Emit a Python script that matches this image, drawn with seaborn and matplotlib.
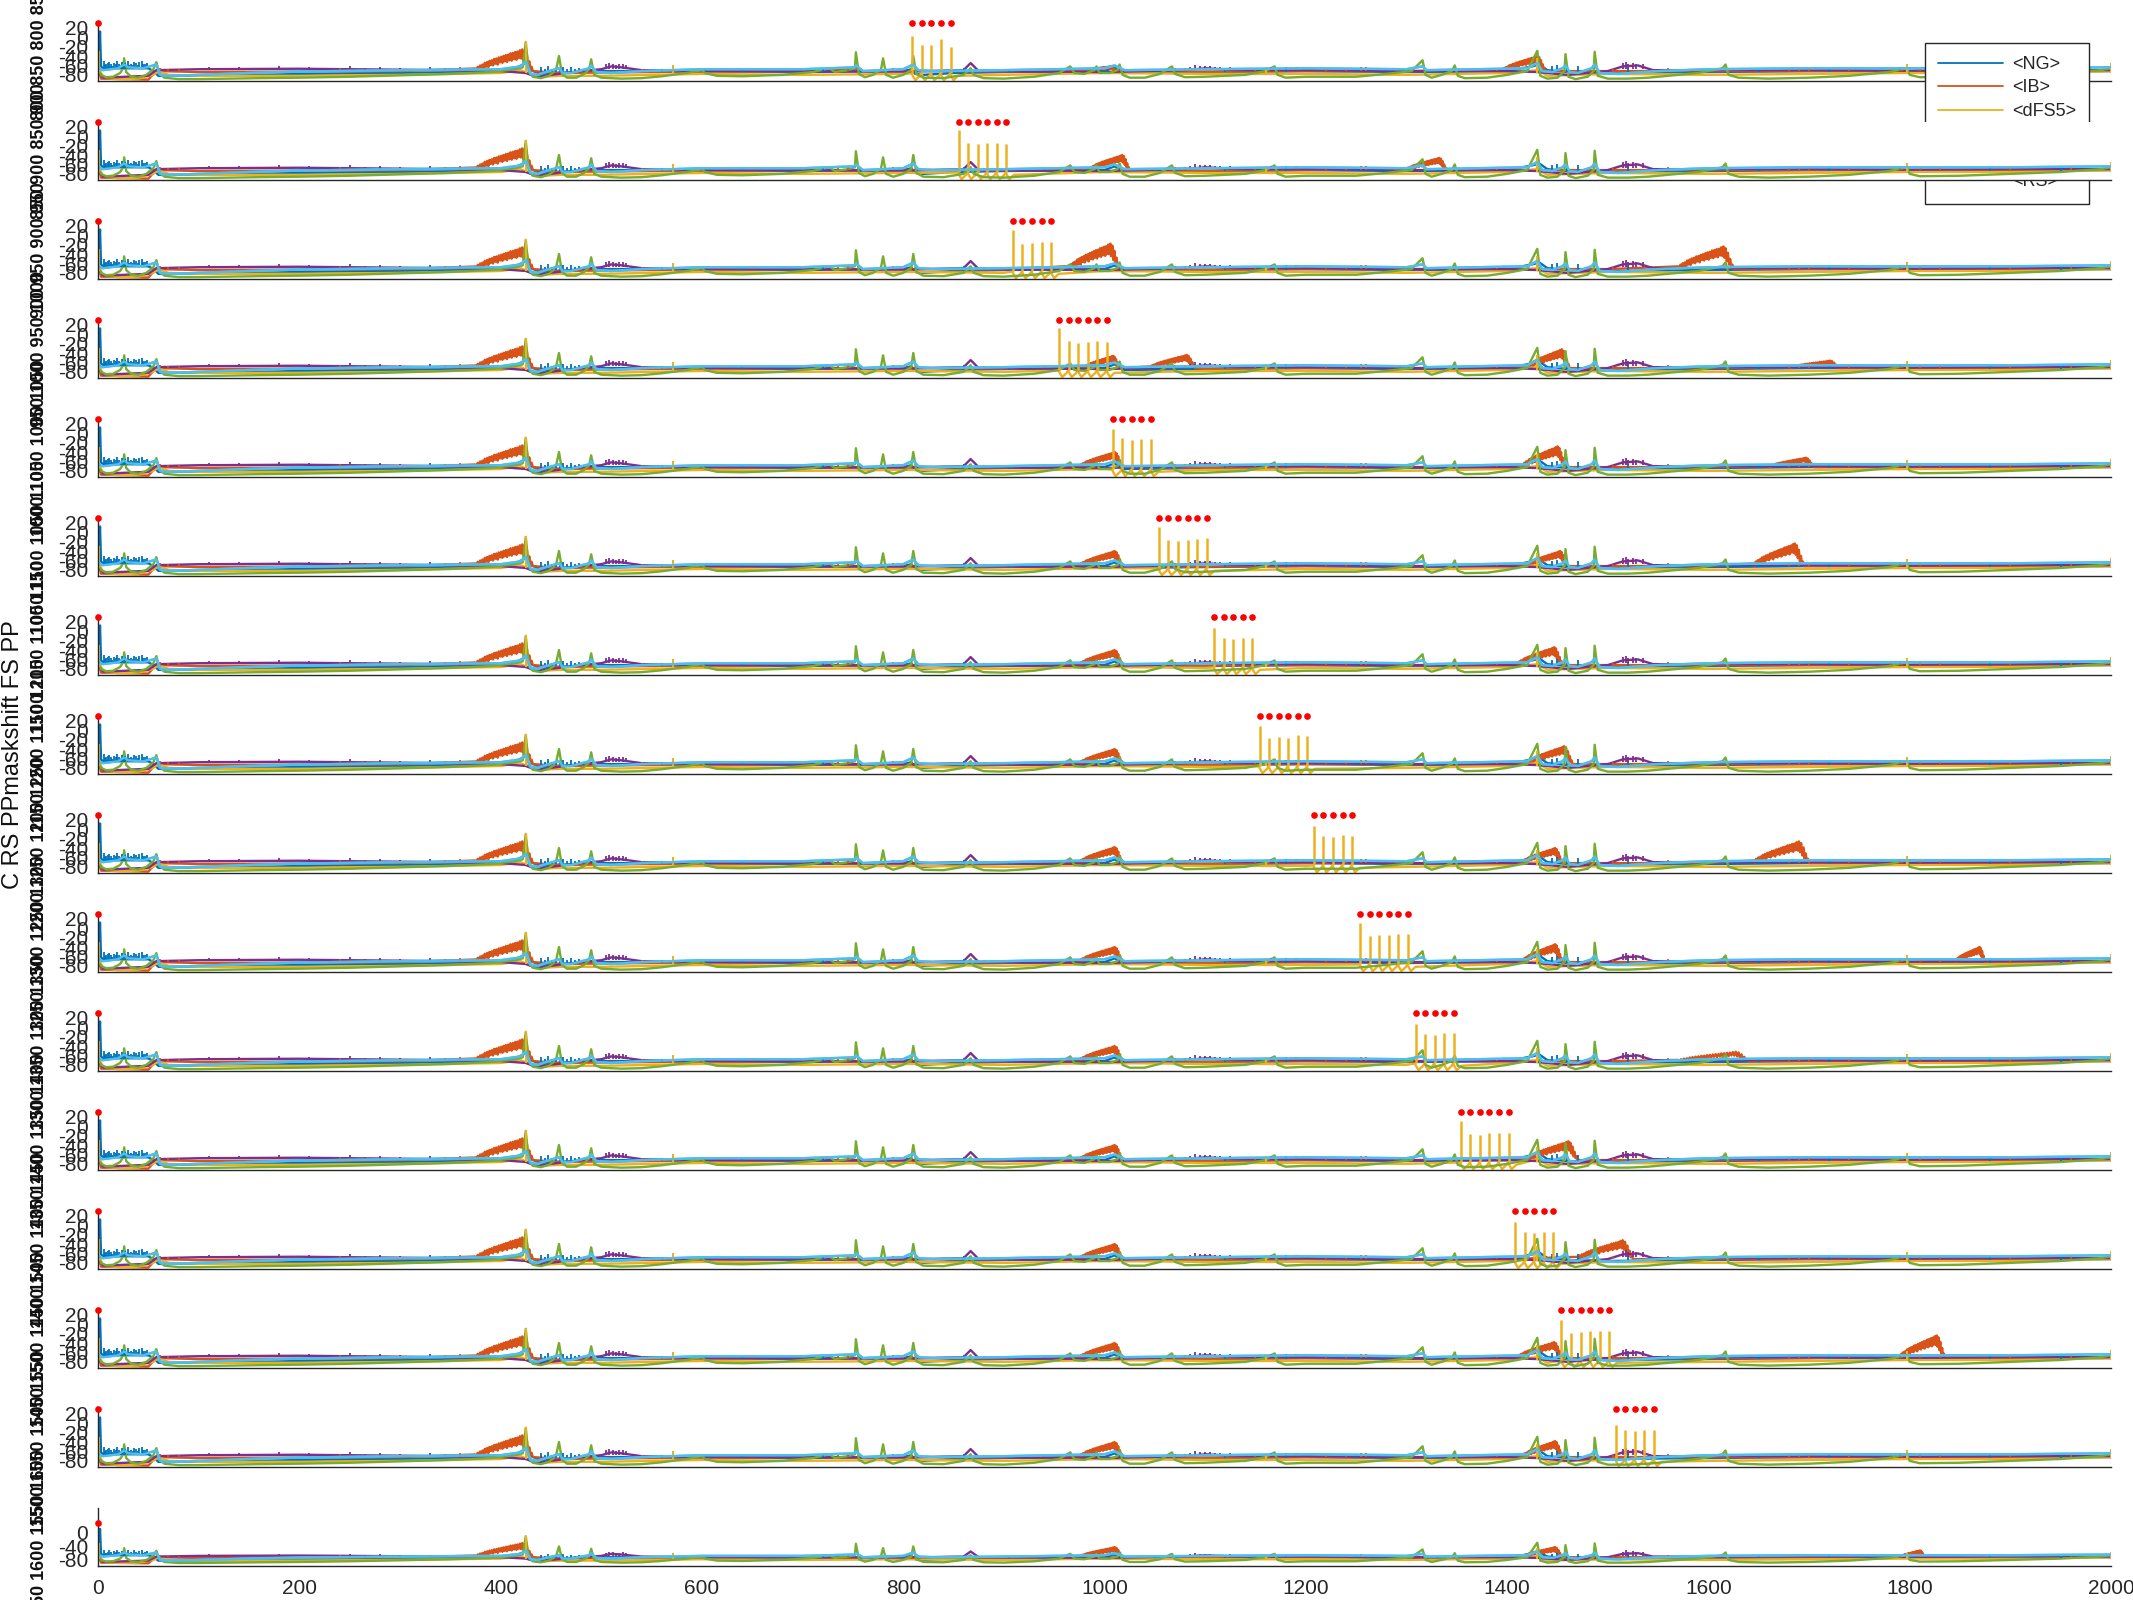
import numpy as np
import pandas as pd
import matplotlib
matplotlib.use("Agg")
import matplotlib.pyplot as plt
from matplotlib.lines import Line2D
import seaborn as sns

sns.set_theme(style="white")
plt.rcParams['font.family'] = ['Liberation Sans', 'DejaVu Sans']
plt.rcParams['axes.unicode_minus'] = False

# ---------------- data ----------------
SERIES = ["<NG>", "<IB>", "<dFS5>", "<FS>", "<LTS>", "<RS>"]
COLORS = ["#0072BD", "#D95319", "#EDB120", "#7E2F8E", "#77AC30", "#4DBEEE"]

X_TICKS = [0, 200, 400, 600, 800, 1000, 1200, 1400, 1600, 1800, 2000]
Y_TICKS = [20, 0, -20, -40, -60, -80]
Y_TICKS_LAST = [0, -40, -80]

# NG (blue)
NG_x = [0, 1, 2, 3, 5, 50, 55, 60, 100, 150, 200, 300, 400, 415, 425, 430, 440, 480, 500, 600,
        700, 800, 808, 812, 820, 850, 900, 1000, 1010, 1020, 1100, 1200, 1300, 1400, 1425, 1432,
        1440, 1460, 1500, 1600, 1700, 1800, 1900, 2000]
NG_y = [-75, -40, 12, -62, -66, -66, -72, -82, -82, -80, -78, -76, -74, -66, -55, -70, -78, -73, -72, -72,
        -74, -72, -68, -78, -80, -76, -74, -72, -64, -76, -74, -72, -74, -72, -62, -58,
        -70, -74, -76, -74, -72, -72, -74, -72]
NG_spk_x = [6, 7, 8, 10, 11, 13, 14, 16, 18, 19, 21, 22, 24, 26, 27, 30, 31, 33, 35, 36, 38,
            40, 41, 44, 45, 47, 49,
            440, 444, 447, 451, 455, 459, 462, 466, 470, 474, 478, 560, 640, 720, 860, 905,
            1050, 1120, 1180, 1250, 1330, 1445, 1450, 1460, 1470, 1520, 1560, 1650, 1720,
            1880, 1950]
NG_spk_top = [-50, -60, -58, -55, -52, -56, -62, -54, -57, -50, -57, -61, -53, -58, -55, -51,
              -60, -56, -59, -52, -55, -60, -53, -50, -58, -56, -54,
              -64, -68, -62, -67, -65, -68, -63, -67, -64, -68, -66, -68, -68, -68, -66, -68,
              -68, -66, -68, -68, -68, -62, -60, -64, -62, -66, -68, -66, -68,
              -66, -66]
NG_spk_bot = [-67] * 27 + [-74] * 31

# IB (orange)
IB_x = [0, 3, 50, 55, 60, 100, 200, 300, 380, 432, 460, 500, 600, 700, 800, 900, 1000, 1100,
        1200, 1300, 1400, 1500, 1600, 1700, 1800, 1900, 2000]
IB_y = [-60, -88, -90, -78, -72, -74, -73, -72, -70, -80, -76, -75, -73, -72, -72, -73, -72, -73,
        -72, -72, -72, -72, -72, -72, -72, -72, -70]
IB_spk_x = [62, 70, 80, 240, 250, 265, 280, 300, 315, 330, 345, 360, 540, 580, 620, 650, 700,
            735, 745, 790, 800, 880, 940, 1060, 1070, 1080, 1150, 1220, 1240, 1255, 1260,
            1290, 1390, 1505, 1560, 1620, 1680, 1690, 1700, 1740, 1780, 1790, 1810, 1830,
            1900, 1960]
IB_spk_top = [-66, -68, -67, -66, -68, -67, -66, -65, -67, -68, -66, -64, -67, -67, -67, -66,
              -68, -64, -63, -66, -65, -67, -67, -67, -66, -65, -67, -66, -67, -63, -64, -66,
              -66, -67, -66, -67, -66, -68, -67, -66, -66, -65, -65, -67, -67, -66]
# jagged burst envelope (fraction of the burst peak above baseline): upper and lower strokes
BURST_TOP = [0.12, 0.2, 0.26, 0.3, 0.38, 0.42, 0.47, 0.5, 0.56, 0.58, 0.63, 0.66, 0.7, 0.74,
             0.76, 0.82, 0.84, 0.88, 0.9, 0.96, 1.0, 0.92, 0.72, 0.45, 0.2]
BURST_LOW = [0.0, 0.05, 0.12, 0.1, 0.2, 0.18, 0.28, 0.26, 0.34, 0.3, 0.4, 0.38, 0.45, 0.42,
             0.5, 0.48, 0.55, 0.52, 0.6, 0.58, 0.5, 0.35, 0.2, 0.1, 0.0]
BURST_BASE = -72

# dFS5 (yellow)
YE_x = [0, 2, 5, 20, 40, 55, 60, 70, 100, 200, 300, 400, 420, 428, 440, 460, 500, 600, 700,
        800, 900, 1000, 1100, 1200, 1300, 1400, 1430, 1440, 1500, 1600, 1700, 1800, 1900, 2000]
YE_y = [-60, -70, -86, -89, -88, -80, -72, -80, -82, -82, -80, -76, -70, -78, -84, -82, -82,
        -78, -80, -78, -80, -76, -78, -78, -80, -76, -70, -82, -78, -80, -78, -76, -76, -72]
YE_spk_x = [1, 425, 571, 1160, 1430, 1797, 2000]
YE_spk_top = [-30, -8, -60, -64, -45, -58, -55]
PULSE_DX = [-0.6, 1.0, 3.0, 5.5, 7.5]
PULSE_DY = [-77, -84, -91, -86, -82]

# FS (purple)
PU_x = [0, 5, 50, 58, 100, 200, 300, 400, 425, 435, 480, 500, 510, 520, 540, 600, 700, 800,
        860, 867, 875, 1000, 1080, 1100, 1130, 1200, 1300, 1400, 1430, 1460, 1500, 1515, 1530,
        1545, 1700, 1800, 1900, 2000]
PU_y = [-72, -86, -82, -70, -68, -67, -69, -72, -76, -84, -72, -68, -62, -64, -70, -72, -72, -73,
        -70, -55, -72, -74, -70, -66, -70, -70, -72, -72, -74, -80, -72, -62, -60,
        -70, -70, -71, -70, -70]
PU_spk_x = [110, 125, 140, 160, 180, 195, 210, 230, 250, 265, 280, 300, 330, 505, 508, 512,
            515, 518, 522, 525, 1085, 1090, 1095, 1100, 1105, 1110, 1115, 1125, 1165, 1180,
            1190, 1515, 1518, 1520, 1525, 1528, 1535, 1790, 1800, 1810]
PU_spk_top = [-63, -65, -64, -66, -62, -65, -64, -66, -62, -65, -63, -66, -64, -58, -55, -56,
              -59, -58, -57, -60, -63, -60, -62, -61, -62, -64, -64, -63, -63, -64,
              -64, -55, -52, -56, -54, -56, -57, -64, -63, -65]

# LTS (green): spikes followed by slow recovery dips
GR_x = [0, 3, 8, 15, 22, 25, 26, 28, 33, 40, 48, 55, 58, 61, 66, 80, 100, 130, 160, 200, 250,
        300, 350, 390, 415, 422, 425, 428, 432, 440, 448, 455, 458, 461, 466, 475, 483, 488,
        490, 493, 500, 520, 540, 560, 585, 600, 603, 615, 640, 680, 710, 727, 732, 745, 752,
        753, 756, 762, 770, 778, 780, 783, 790, 800, 808, 810, 813, 820, 840, 860, 867, 870,
        880, 900, 930, 955, 966, 970, 980, 990, 992, 995, 1005, 1013, 1015, 1018, 1025, 1040,
        1055, 1067, 1070, 1080, 1100, 1140, 1160, 1169, 1172, 1180, 1200, 1250, 1280, 1305,
        1316, 1319, 1325, 1335, 1345, 1348, 1351, 1358, 1380, 1400, 1420, 1430, 1433, 1440,
        1450, 1457, 1458, 1461, 1468, 1480, 1486, 1487, 1490, 1500, 1520, 1540, 1560, 1590,
        1614, 1617, 1620, 1630, 1660, 1700, 1740, 1780, 1797, 1800, 1810, 1850, 1900, 1950,
        1990, 2000]
GR_y = [-70, -80, -85, -84, -76, -66, -45, -74, -84, -86, -80, -68, -53, -78, -86, -89, -89,
        -88, -87, -86, -84, -81, -78, -74, -68, -64, -10, -74, -84, -87, -82, -70, -40, -78,
        -86, -86, -78, -68, -47, -80, -86, -88, -87, -83, -76, -70, -76, -82, -83, -80, -74,
        -66, -74, -70, -66, -32, -78, -85, -80, -68, -45, -80, -86, -80, -70, -40, -78, -86,
        -87, -80, -66, -80, -87, -88, -84, -76, -62, -76, -78, -70, -62, -76, -76, -70, -58,
        -80, -86, -86, -78, -62, -78, -85, -84, -80, -72, -62, -80, -86, -84, -84, -78, -72,
        -49, -80, -86, -80, -72, -60, -82, -87, -86, -80, -72, -29, -82, -88, -86, -72, -36,
        -84, -89, -84, -72, -31, -82, -88, -88, -86, -82, -76, -66, -58, -80, -86, -88, -86,
        -82, -74, -66, -80, -85, -84, -80, -76, -70, -66]

# RS (light blue)
LB_x = [0, 5, 20, 26, 30, 45, 58, 62, 70, 100, 150, 200, 300, 400, 420, 425, 430, 437, 445,
        458, 462, 470, 488, 490, 495, 510, 540, 600, 700, 752, 753, 760, 800, 810, 815, 830,
        900, 1000, 1010, 1020, 1100, 1200, 1300, 1316, 1320, 1420, 1430, 1435, 1445, 1455,
        1458, 1462, 1470, 1484, 1487, 1492, 1510, 1550, 1600, 1700, 1800, 1900, 2000]
LB_y = [-66, -70, -66, -58, -64, -66, -58, -80, -82, -80, -76, -73, -70, -68, -62, -52, -78,
        -80, -74, -66, -76, -76, -66, -60, -74, -76, -72, -68, -68, -64, -60, -72, -68, -58,
        -70, -72, -70, -66, -60, -70, -68, -66, -68, -62, -70, -66, -55, -72, -74, -66, -60,
        -74, -76, -66, -58, -76, -78, -72, -68, -66, -66, -66, -64]

# per panel: stimulus pulses (red dots) and dFS5 pulse heights
PULSE_X = [
    [809, 818.5, 828, 837.5, 847],
    [855, 864.5, 874, 883.5, 893, 902.5],
    [909, 918.5, 928, 937.5, 947],
    [955, 964.5, 974, 983.5, 993, 1002.5],
    [1008, 1017.5, 1027, 1036.5, 1046],
    [1054, 1063.5, 1073, 1082.5, 1092, 1101.5],
    [1109, 1118.5, 1128, 1137.5, 1147],
    [1154, 1163.5, 1173, 1182.5, 1192, 1201.5],
    [1208, 1217.5, 1227, 1236.5, 1246],
    [1254, 1263.5, 1273, 1282.5, 1292, 1301.5],
    [1309, 1318.5, 1328, 1337.5, 1347],
    [1354, 1363.5, 1373, 1382.5, 1392, 1401.5],
    [1408, 1417.5, 1427, 1436.5, 1446],
    [1454, 1463.5, 1473, 1482.5, 1492, 1501.5],
    [1508, 1517.5, 1527, 1536.5, 1546],
    [],
]
PULSE_H = [
    [2, -16, -16, -3, -20],
    [12, -14, -16, -15, -14, -16],
    [10, -18, -16, -14, -15],
    [12, -15, -18, -16, -14, -16],
    [8, -10, -14, -12, -12],
    [10, -16, -18, -16, -14, -12],
    [6, -14, -16, -14, -14],
    [8, -16, -14, -16, -10, -12],
    [6, -14, -16, -12, -14],
    [10, -16, -14, -14, -12, -12],
    [6, -14, -16, -12, -12],
    [10, -16, -18, -14, -14, -14],
    [6, -14, -16, -14, -14],
    [8, -18, -16, -14, -14, -14],
    [-4, -14, -16, -14, -14],
    [],
]
# per panel orange (IB) bursts: start, end, peak
BURST_START = [
    [375, 725, 978, 1395], [375, 985, 1300], [375, 965, 1570], [375, 980, 1045, 1420, 1680],
    [375, 975, 1415, 1660], [375, 975, 1420, 1645], [375, 975, 1410], [375, 975, 1420],
    [375, 975, 1415, 1645], [375, 975, 1415, 1845], [375, 975, 1570], [375, 975, 1420],
    [375, 975, 1470], [375, 975, 1410, 1790], [375, 975, 1415], [375, 975, 1415, 1790],
]
BURST_END = [
    [432, 760, 1012, 1438], [432, 1025, 1340], [432, 1015, 1625], [432, 1015, 1090, 1462, 1730],
    [432, 1018, 1458, 1705], [432, 1018, 1460, 1695], [432, 1018, 1455], [432, 1018, 1465],
    [432, 1018, 1455, 1700], [432, 1018, 1455, 1875], [432, 1018, 1640], [432, 1018, 1470],
    [432, 1018, 1525], [432, 1018, 1455, 1835], [432, 1018, 1455], [432, 1018, 1455, 1815],
]
BURST_PEAK = [
    [-26, -64, -62, -40], [-26, -40, -46], [-26, -18, -24], [-26, -46, -44, -32, -56],
    [-26, -40, -28, -52], [-26, -40, -40, -24], [-26, -40, -34], [-26, -40, -34],
    [-26, -38, -40, -26], [-26, -40, -34, -40], [-26, -40, -52], [-26, -40, -32],
    [-26, -40, -32], [-26, -40, -38, -24], [-26, -40, -38], [-30, -42, -42, -52],
]
PANEL_YLABELS = ["800 850 800 850", "850 900 850 900", "900 950 900 950",
                 "950 1000 950 1000", "1000 1050 1000 1050", "1050 1100 1050 1100",
                 "1100 1150 1100 1150", "1150 1200 1150 1200", "1200 1250 1200 1250",
                 "1250 1300 1250 1300", "1300 1350 1300 1350", "1350 1400 1350 1400",
                 "1400 1450 1400 1450", "1450 1500 1450 1500", "1500 1550 1500 1550",
                 "1550 1600 1550 1600"]
SUPYLABEL = "C RS PPmaskshift FS PP"

# ---------------- figure ----------------
W, H = 2133, 1600
fig = plt.figure(figsize=(W / 100, H / 100), dpi=100)
GRAY = "#262626"
LW = 1.7


def orange_series(k):
    xs, ys = [], []
    spans = list(zip(BURST_START[k], BURST_END[k], BURST_PEAK[k]))
    for x, y in zip(IB_x, IB_y):
        if not any(s - 1 <= x <= e + 1 for s, e, _ in spans):
            xs.append(x)
            ys.append(y)
    top = np.array(BURST_TOP)
    low = np.array(BURST_LOW)
    n = len(top)
    for s, e, p in spans:
        edges = np.linspace(s, e, 2 * n)
        xs.extend(edges[0::2])
        ys.extend(BURST_BASE + (p - BURST_BASE) * top)
        xs.extend(edges[1::2])
        ys.extend(BURST_BASE + (p - BURST_BASE) * low)
    order = np.argsort(xs, kind="stable")
    return np.array(xs, float)[order], np.array(ys, float)[order]


def yellow_series(k):
    px = PULSE_X[k]
    xs, ys = [], []
    for x, y in zip(YE_x, YE_y):
        if px and px[0] - 1 <= x <= px[-1] + 8:
            continue
        xs.append(x)
        ys.append(y)
    for p in px:
        for dx, dy in zip(PULSE_DX, PULSE_DY):
            xs.append(p + dx)
            ys.append(dy)
    order = np.argsort(xs, kind="stable")
    return np.array(xs, float)[order], np.array(ys, float)[order]


axes = []
for k in range(16):
    bottom_px = 81 + 99 * k
    ax = fig.add_axes([98 / W, 1 - bottom_px / H, 2013 / W, 58 / H])
    axes.append(ax)
    last = (k == 15)

    ox, oy = orange_series(k)
    yx, yy = yellow_series(k)
    data = [(NG_x, NG_y), (ox, oy), (yx, yy), (PU_x, PU_y), (GR_x, GR_y), (LB_x, LB_y)]
    for (xs, ys), c in zip(data, COLORS):
        sns.lineplot(x=np.asarray(xs, float), y=np.asarray(ys, float), ax=ax, color=c,
                     lw=LW, estimator=None, sort=False, legend=False)
    # spiky components
    ax.vlines(NG_spk_x, NG_spk_bot, NG_spk_top, color=COLORS[0], lw=1.3)
    ax.vlines(IB_spk_x, -72, IB_spk_top, color=COLORS[1], lw=1.3)
    ax.vlines(YE_spk_x, -76, YE_spk_top, color=COLORS[2], lw=1.5)
    ax.vlines(PU_spk_x, -68, PU_spk_top, color=COLORS[3], lw=1.3)
    if PULSE_X[k]:
        ax.vlines(PULSE_X[k], -77, PULSE_H[k], color=COLORS[2], lw=1.8)
    # RS drawn on top again (it lies over the others in the reference)
    sns.lineplot(x=np.asarray(LB_x, float), y=np.asarray(LB_y, float), ax=ax, color=COLORS[5],
                 lw=LW, estimator=None, sort=False, legend=False)

    # red stimulus markers
    top = 30
    ax.plot([0] + PULSE_X[k], [top] * (1 + len(PULSE_X[k])), 'o', color='#FF0000',
            ms=4.8, mec='none', clip_on=False, zorder=5)

    ax.set_xlim(0, 2000)
    if last:
        ax.set_ylim(-98, 74)
        ax.set_yticks(Y_TICKS_LAST)
        ax.set_yticklabels([str(v) for v in Y_TICKS_LAST])
    else:
        ax.set_ylim(-93, 30)
        ax.set_yticks(Y_TICKS)
        ax.set_yticklabels([str(v) for v in Y_TICKS])
    ax.set_xticks(X_TICKS)
    if last:
        ax.set_xticklabels([str(v) for v in X_TICKS])
    else:
        ax.set_xticklabels([])
    ax.tick_params(axis='both', direction='in', length=14.4, width=1, color=GRAY,
                   labelcolor=GRAY)
    ax.tick_params(axis='y', labelsize=15, pad=7)
    ax.tick_params(axis='x', labelsize=15, pad=9)
    for s in ['top', 'right']:
        ax.spines[s].set_visible(False)
    for s in ['left', 'bottom']:
        ax.spines[s].set_color(GRAY)
        ax.spines[s].set_linewidth(1.0)
    ax.set_xlabel("")
    ax.set_ylabel(PANEL_YLABELS[k], fontsize=13, color="#111111", fontweight='bold')
    ax.yaxis.set_label_coords(-0.025, 0.5)
    ax.set_facecolor("white")

handles = [Line2D([0], [0], color=c, lw=1.3) for c in COLORS]
leg = axes[0].legend(handles, SERIES, loc='upper right',
                     bbox_to_anchor=(2089 / W, 1 - 43 / H), bbox_transform=fig.transFigure,
                     fontsize=13, frameon=True, fancybox=False, framealpha=1,
                     edgecolor=GRAY, borderaxespad=0, handlelength=3.6, handletextpad=0.5,
                     labelspacing=0.36, borderpad=0.72)
leg.get_frame().set_linewidth(1.0)
for t in leg.get_texts():
    t.set_color(GRAY)

fig.text(13 / W, 1 - 755 / H, SUPYLABEL, rotation=90, ha='center', va='center',
         fontsize=17, color="#111111")

fig.savefig("out.png", dpi=100, facecolor="white")
